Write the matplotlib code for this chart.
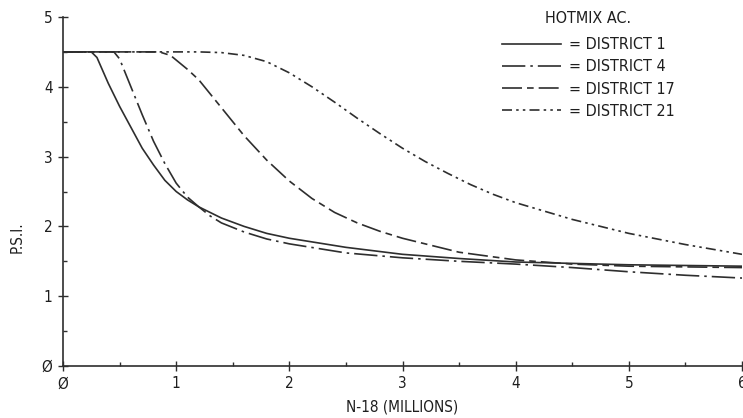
import matplotlib
matplotlib.use("Agg")
import matplotlib.pyplot as plt
from matplotlib.ticker import MultipleLocator

plt.rcParams['font.family'] = ['DejaVu Sans']
plt.rcParams['font.stretch'] = 'condensed'

# District 1 (solid)
d1_x = [0, 0.25, 0.3, 0.4, 0.5, 0.6, 0.7, 0.8, 0.9, 1.0, 1.1, 1.2, 1.4, 1.6, 1.8, 2.0, 2.5, 3.0, 3.5, 4.0, 4.5, 5.0, 5.5, 6.0]
d1_y = [4.5, 4.5, 4.42, 4.05, 3.72, 3.42, 3.12, 2.88, 2.66, 2.5, 2.38, 2.28, 2.12, 2.0, 1.9, 1.83, 1.7, 1.6, 1.54, 1.49, 1.47, 1.45, 1.44, 1.43]
# District 4
d4_x = [0, 0.45, 0.5, 0.6, 0.7, 0.8, 0.9, 1.0, 1.1, 1.2, 1.3, 1.4, 1.6, 1.8, 2.0, 2.5, 3.0, 3.5, 4.0, 4.5, 5.0, 5.5, 6.0]
d4_y = [4.5, 4.5, 4.4, 4.0, 3.6, 3.22, 2.9, 2.62, 2.42, 2.28, 2.15, 2.05, 1.92, 1.82, 1.75, 1.62, 1.55, 1.5, 1.46, 1.41, 1.35, 1.3, 1.26]
# District 17
d17_x = [0, 0.85, 0.95, 1.1, 1.2, 1.4, 1.6, 1.8, 2.0, 2.2, 2.4, 2.6, 2.8, 3.0, 3.5, 4.0, 4.5, 5.0, 5.5, 6.0]
d17_y = [4.5, 4.5, 4.45, 4.25, 4.1, 3.7, 3.3, 2.95, 2.65, 2.4, 2.2, 2.05, 1.93, 1.83, 1.63, 1.52, 1.46, 1.43, 1.42, 1.41]
# District 21
d21_x = [0, 1.2, 1.4, 1.6, 1.8, 2.0, 2.2, 2.4, 2.6, 2.8, 3.0, 3.2, 3.4, 3.6, 3.8, 4.0, 4.5, 5.0, 5.5, 6.0]
d21_y = [4.5, 4.5, 4.49, 4.45, 4.36, 4.2, 4.0, 3.78, 3.55, 3.33, 3.12, 2.93, 2.76, 2.6, 2.46, 2.34, 2.1, 1.9, 1.74, 1.6]

labels = ["= DISTRICT 1", "= DISTRICT 4", "= DISTRICT 17", "= DISTRICT 21"]
x_ticks = [0, 1, 2, 3, 4, 5, 6]
x_tick_labels = ["Ø", "1", "2", "3", "4", "5", "6"]
y_ticks = [0, 1, 2, 3, 4, 5]
y_tick_labels = ["Ø", "1", "2", "3", "4", "5"]

col = '#2e2e2e'
tcol = '#1e1e1e'
fig = plt.figure(figsize=(7.43, 4.18), dpi=100)
ax = fig.add_axes([63/743, 52/418, 679/743, 349/418])

styles = [
    dict(linestyle='-'),
    dict(linestyle=(0, (14, 3, 1.5, 3))),
    dict(linestyle=(0, (12, 3, 4, 3))),
    dict(linestyle=(0, (6, 2.5, 1.5, 2.5, 1.5, 2.5))),
]
series = [(d1_x, d1_y), (d4_x, d4_y), (d17_x, d17_y), (d21_x, d21_y)]
handles = []
for (xs, ys), st, lab in zip(series, styles, labels):
    h, = ax.plot(xs, ys, color=col, lw=1.2, label=lab, **st)
    handles.append(h)

ax.set_xlim(0, 6)
ax.set_ylim(0, 5)
ax.spines['top'].set_visible(False)
ax.spines['right'].set_visible(False)
for s in ['left', 'bottom']:
    ax.spines[s].set_color(col)
    ax.spines[s].set_linewidth(1.2)

ax.set_xticks(x_ticks)
ax.set_xticklabels(x_tick_labels)
ax.set_yticks(y_ticks)
ax.set_yticklabels(y_tick_labels)
ax.xaxis.set_minor_locator(MultipleLocator(0.5))
ax.yaxis.set_minor_locator(MultipleLocator(0.5))
ax.tick_params(which='major', direction='inout', length=7, width=1.0, color=col,
               labelsize=11, labelcolor=tcol, pad=4)
ax.tick_params(which='minor', direction='in', length=3, width=1.0, color=col)

ax.set_xlabel("N-18 (MILLIONS)", fontsize=11, color=tcol, labelpad=6)
ax.set_ylabel("P.S.I.", fontsize=11, color=tcol)
ax.yaxis.set_label_coords(-0.056, 0.37)

leg = ax.legend(handles=handles, labels=labels, title="HOTMIX AC.", loc='upper left',
                bbox_to_anchor=(0.637, 1.035), frameon=False, fontsize=11.5,
                title_fontsize=11.5, handlelength=3.7, handletextpad=0.5,
                labelspacing=0.45, borderaxespad=0)
leg._legend_box.sep = 8
for t in leg.get_texts():
    t.set_color(tcol)
leg.get_title().set_color(tcol)

fig.savefig("out.png", dpi=100)
